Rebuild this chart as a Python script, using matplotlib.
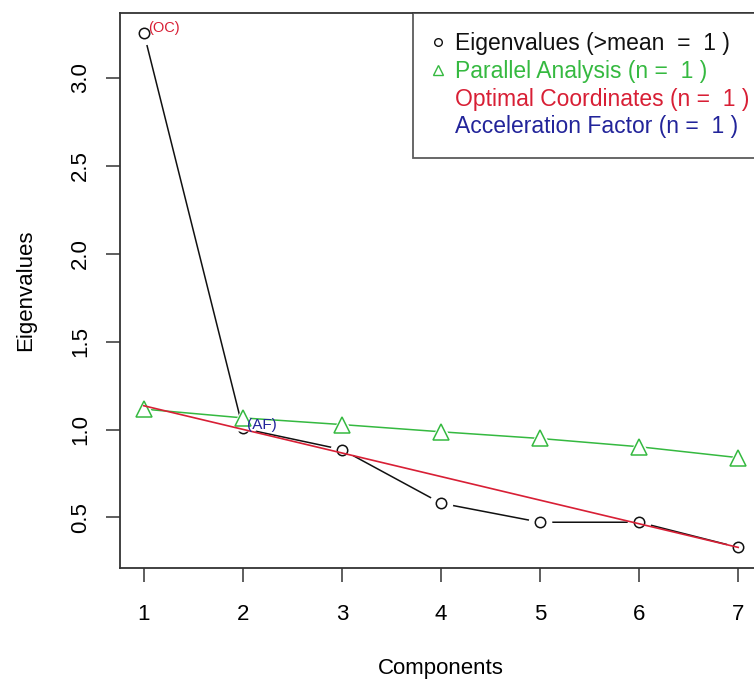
import matplotlib
matplotlib.use("Agg")
import matplotlib.pyplot as plt
from matplotlib.lines import Line2D

plt.rcParams['font.family'] = ['Liberation Sans', 'DejaVu Sans']

components = [1, 2, 3, 4, 5, 6, 7]
eigenvalues = [3.256, 1.006, 0.886, 0.581, 0.473, 0.473, 0.330]
parallel = [1.116, 1.066, 1.028, 0.987, 0.949, 0.902, 0.840]
oc_x = [1, 7]
oc_y = [1.135, 0.330]
x_ticks = [1, 2, 3, 4, 5, 6, 7]
y_ticks = [0.5, 1.0, 1.5, 2.0, 2.5, 3.0]
legend_labels = ["Eigenvalues (>mean  =  1 )", "Parallel Analysis (n =  1 )",
                 "Optimal Coordinates (n =  1 )", "Acceleration Factor (n =  1 )"]

BLACK = "#111111"
GREEN = "#35b940"
RED = "#d81f35"
BLUE = "#22249a"
FS = 16

fig = plt.figure(figsize=(7.54, 6.82), dpi=100)
ax = fig.add_axes([120/754, 1-568/682, (762-120)/754, (568-13)/682])

# Eigenvalues (type="b")
ax.plot(components, eigenvalues, color=BLACK, lw=1.1, zorder=2)
ax.plot(components, eigenvalues, ls='none', marker='o', ms=17, mfc='white', mec='none', zorder=3)
ax.plot(components, eigenvalues, ls='none', marker='o', ms=7.5, mfc='none', mec=BLACK, mew=1.1, zorder=4)

# Parallel analysis
ax.plot(components, parallel, color=GREEN, lw=1.1, zorder=5)
ax.plot(components, parallel, ls='none', marker='^', ms=19, mfc='white', mec='none', zorder=6)
ax.plot(components, parallel, ls='none', marker='^', ms=11, mfc='none', mec=GREEN, mew=1.1, zorder=7)

# Optimal coordinates line
ax.plot(oc_x, oc_y, color=RED, lw=1.2, zorder=8)

ax.text(components[0] + 0.04, eigenvalues[0] + 0.025, "(OC)", color=RED, fontsize=10.5,
        ha='left', va='center', zorder=9)
ax.text(components[1] + 0.04, eigenvalues[1] + 0.018, "(AF)", color=BLUE, fontsize=11,
        ha='left', va='center', zorder=9)

ax.set_xlim(0.76, 7.24)
ax.set_ylim(0.2129, 3.3671)
ax.set_xticks(x_ticks)
ax.set_xticklabels([str(t) for t in x_ticks])
ax.set_yticks(y_ticks)
ax.set_yticklabels([f"{t:.1f}" for t in y_ticks], rotation=90, va='center')
ax.tick_params(axis='both', labelsize=FS, length=10, width=1.1, color='#333333')
ax.tick_params(axis='x', pad=16)
ax.tick_params(axis='y', pad=11)
for s in ax.spines.values():
    s.set_linewidth(1.3)
    s.set_color('#333333')

ax.set_xlabel("Components", fontsize=FS, labelpad=23.5)
ax.set_ylabel("Eigenvalues", fontsize=FS, labelpad=24)

handles = [
    Line2D([], [], ls='none', marker='o', ms=5.5, mfc='none', mec=BLACK, mew=1.0),
    Line2D([], [], ls='none', marker='^', ms=7.5, mfc='none', mec=GREEN, mew=1.0),
    Line2D([], [], ls='none', marker=None),
    Line2D([], [], ls='none', marker=None),
]
leg = ax.legend(handles, legend_labels, loc='upper left',
                bbox_to_anchor=((413-120)/642, 1.0),
                fontsize=16.5, frameon=True, fancybox=False, borderpad=0.85,
                labelspacing=0.2, handlelength=0.5, handletextpad=0.48,
                borderaxespad=0.0)
leg.get_frame().set_edgecolor('#333333')
leg.get_frame().set_linewidth(1.3)
for t, c in zip(leg.get_texts(), [BLACK, GREEN, RED, BLUE]):
    t.set_color(c)

fig.savefig("out.png", dpi=100)
